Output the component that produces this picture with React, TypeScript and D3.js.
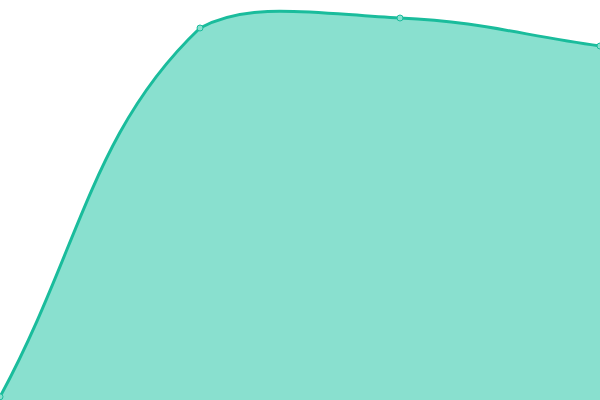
import { useEffect, useRef } from 'react'
import * as d3 from 'd3'

const categories = ['A', 'B', 'C', 'D']
const values = [0.8, 93, 95.5, 88.5]

const WIDTH = 600
const HEIGHT = 400
const TENSION = 0.4

// spline with control points capped to the drawing area (kinks where a control point gets clipped)
function cappedSpline(context: any) {
  let pts: [number, number][] = []
  let lineState = NaN
  const cap = (v: number, lo: number, hi: number) => Math.max(lo, Math.min(hi, v))
  return {
    areaStart() {
      lineState = 0
    },
    areaEnd() {
      lineState = NaN
    },
    lineStart() {
      pts = []
    },
    point(x: number, y: number) {
      pts.push([+x, +y])
    },
    lineEnd() {
      const n = pts.length
      if (n) {
        const cps = pts.map((p, i) => {
          const prev = pts[Math.max(0, i - 1)]
          const next = pts[Math.min(n - 1, i + 1)]
          const d01 = Math.hypot(p[0] - prev[0], p[1] - prev[1])
          const d12 = Math.hypot(next[0] - p[0], next[1] - p[1])
          let s01 = d01 / (d01 + d12)
          let s12 = d12 / (d01 + d12)
          s01 = isNaN(s01) ? 0 : s01
          s12 = isNaN(s12) ? 0 : s12
          const fa = TENSION * s01
          const fb = TENSION * s12
          const inArea = p[0] >= 0 && p[0] <= WIDTH && p[1] >= 0 && p[1] <= HEIGHT
          let c0: [number, number] = [p[0] - fa * (next[0] - prev[0]), p[1] - fa * (next[1] - prev[1])]
          let c1: [number, number] = [p[0] + fb * (next[0] - prev[0]), p[1] + fb * (next[1] - prev[1])]
          if (inArea) {
            c0 = [cap(c0[0], 0, WIDTH), cap(c0[1], 0, HEIGHT)]
            c1 = [cap(c1[0], 0, WIDTH), cap(c1[1], 0, HEIGHT)]
          }
          return { c0, c1 }
        })
        if (lineState) context.lineTo(pts[0][0], pts[0][1])
        else context.moveTo(pts[0][0], pts[0][1])
        for (let i = 1; i < n; i++) {
          const a = cps[i - 1].c1
          const b = cps[i].c0
          context.bezierCurveTo(a[0], a[1], b[0], b[1], pts[i][0], pts[i][1])
        }
      }
      if (lineState || (lineState !== 0 && n === 1)) context.closePath()
      lineState = 1 - lineState
    },
  }
}

const App = () => {
  const svgRef = useRef<SVGSVGElement | null>(null)

  useEffect(() => {
    if (!svgRef.current) return
    const svg = d3.select(svgRef.current)
    svg.selectAll('*').remove()

    const x = d3.scalePoint<string>().domain(categories).range([0, WIDTH])
    const y = d3.scaleLinear().domain([0, 100]).range([HEIGHT, 0])

    const data = categories.map((c, i) => ({ c, v: values[i] }))

    // area fill
    const area = d3
      .area<{ c: string; v: number }>()
      .x((d) => x(d.c)!)
      .y0(HEIGHT)
      .y1((d) => y(d.v))
      .curve(cappedSpline as any)

    svg.append('path').datum(data).attr('fill', '#89e0cf').attr('d', area)

    // line
    const line = d3
      .line<{ c: string; v: number }>()
      .x((d) => x(d.c)!)
      .y((d) => y(d.v))
      .curve(cappedSpline as any)

    svg
      .append('path')
      .datum(data)
      .attr('fill', 'none')
      .attr('stroke', '#1abc9c')
      .attr('stroke-width', 3)
      .attr('d', line)

    // points
    svg
      .selectAll('circle')
      .data(data)
      .join('circle')
      .attr('cx', (d) => x(d.c)!)
      .attr('cy', (d) => y(d.v))
      .attr('r', 3)
      .attr('fill', '#89e0cf')
      .attr('stroke', '#1abc9c')
      .attr('stroke-width', 1)
  }, [])

  return (
    <svg
      ref={svgRef}
      width={WIDTH}
      height={HEIGHT}
      style={{ position: 'absolute', left: 0, top: 0, background: 'white' }}
    ></svg>
  )
}

export default App
